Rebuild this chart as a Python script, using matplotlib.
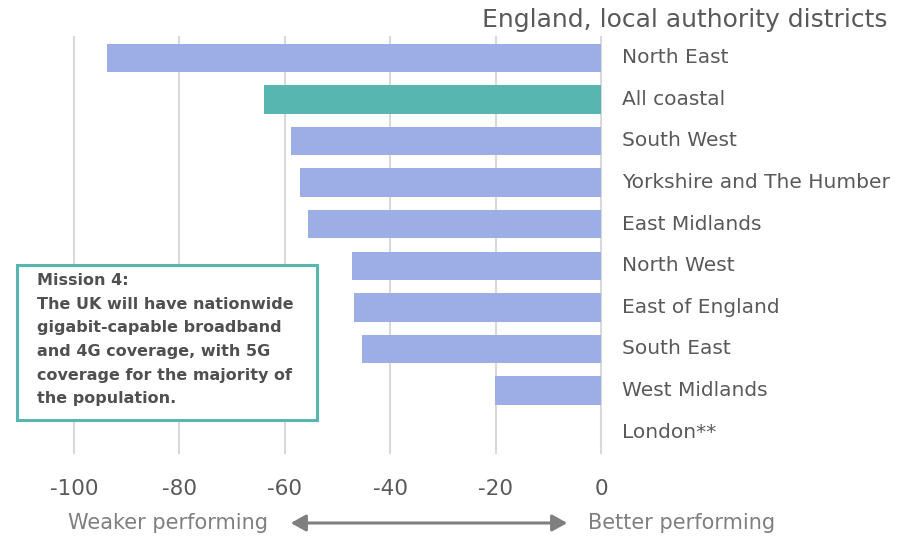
import matplotlib.pyplot as plt
from matplotlib.patches import FancyBboxPatch, FancyArrowPatch

regions = ["North East", "All coastal", "South West", "Yorkshire and The Humber",
           "East Midlands", "North West", "East of England", "South East",
           "West Midlands", "London**"]
scores = [-93.7, -64.0, -58.8, -57.1, -55.6, -47.2, -46.9, -45.4, -20.1, 0.0]
highlight = "All coastal"
xticks = [-100, -80, -60, -40, -20, 0]

grey = "#595959"
bar_col = "#9DAEE6"
teal = "#57B6B0"

plt.rcParams["font.family"] = ["DejaVu Sans"]

fig = plt.figure(figsize=(9.07, 5.36), dpi=100)
ax = fig.add_axes([74 / 907, 1 - 453 / 536, 527 / 907, 416 / 536])

ypos = list(range(len(regions)))
colors = [teal if r == highlight else bar_col for r in regions]
ax.barh(ypos, scores, height=0.68, color=colors, zorder=2)

ax.set_xlim(-100, 0)
ax.set_ylim(len(regions) - 0.5, -0.5)
ax.set_xticks(xticks)
ax.set_xticklabels([str(t) for t in xticks], fontsize=15.5, color=grey)
ax.tick_params(axis="x", length=0, pad=19)
ax.set_yticks([])
ax.grid(axis="x", color="#D9D9D9", linewidth=1.5, zorder=0)
for gl in ax.get_xgridlines():
    gl.set_clip_on(False)
for s in ax.spines.values():
    s.set_visible(False)

# region names sit just right of the zero line
for y, name in zip(ypos, regions):
    ax.text(1.04, y, name, transform=ax.get_yaxis_transform(), ha="left",
            va="center", fontsize=14.5, color=grey)

fig.text(887 / 907, 1 - 20 / 536, "England, local authority districts",
         ha="right", va="center", fontsize=18, color=grey)

# mission box
box = FancyBboxPatch((17 / 907, 1 - 420 / 536), 300 / 907, 155 / 536,
                     boxstyle="square,pad=0", transform=fig.transFigure,
                     facecolor="white", edgecolor=teal, linewidth=2.2, zorder=5)
fig.add_artist(box)
fig.text(37 / 907, 1 - 273 / 536,
         "Mission 4:\nThe UK will have nationwide\ngigabit-capable broadband\n"
         "and 4G coverage, with 5G\ncoverage for the majority of\nthe population.",
         ha="left", va="top", fontsize=11.5, fontweight="bold", color="#505050",
         linespacing=1.72, zorder=6)

# direction arrow under the axis
fig.text(68 / 907, 1 - 523 / 536, "Weaker performing", ha="left", va="center",
         fontsize=15, color="#7F7F7F")
fig.text(588 / 907, 1 - 523 / 536, "Better performing", ha="left", va="center",
         fontsize=15, color="#7F7F7F")
fig.add_artist(FancyArrowPatch(
    (288 / 907, 1 - 523 / 536), (570 / 907, 1 - 523 / 536),
    transform=fig.transFigure, arrowstyle="<|-|>,head_length=9,head_width=5",
    color="#7F7F7F", linewidth=2.2))

fig.savefig("out.png", dpi=100)
